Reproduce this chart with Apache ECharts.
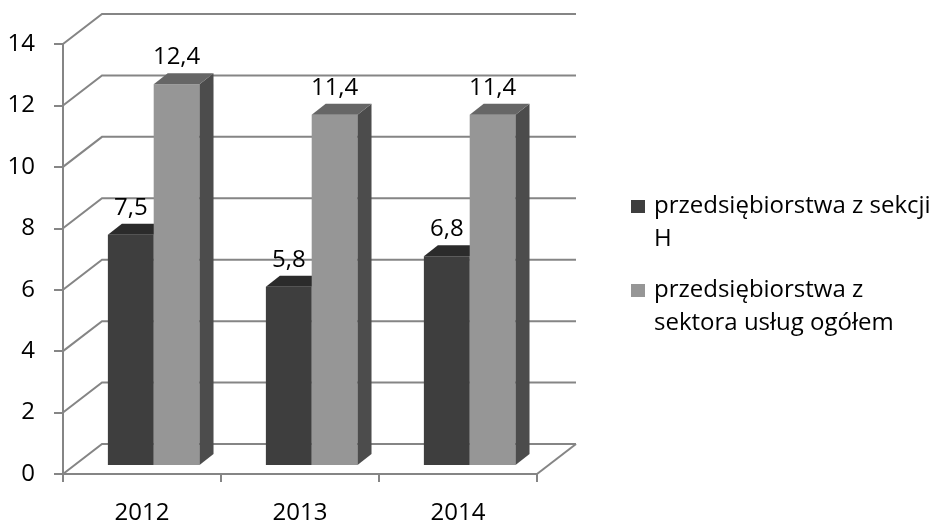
<!DOCTYPE html>
<html>
<head>
<meta charset="utf-8">
<script src="https://cdn.jsdelivr.net/npm/echarts@6/dist/echarts.min.js"></script>
<style>
  html, body { margin: 0; padding: 0; background: #ffffff; }
  #chart { width: 936px; height: 521px; }
</style>
</head>
<body>
<div id="chart"></div>
<script>
// Data
const categories = ['2012', '2013', '2014'];
const seriesNames = ['przedsiębiorstwa z sekcji H', 'przedsiębiorstwa z sektora usług ogółem'];
const legendLabels = ['przedsiębiorstwa z sekcji\nH', 'przedsiębiorstwa z\nsektora usług ogółem'];
const sectionH = [7.5, 5.8, 6.8];
const servicesTotal = [12.4, 11.4, 11.4];
const yTicks = [0, 2, 4, 6, 8, 10, 12, 14];

// 3D look: depth of the chart box and of each bar (pixels)
const DX = 39, DY = 30;        // front plane -> back wall
const BAR_PLANE = 0.3;         // bars stand this far into the box
const BDX = 14, BDY = 11;      // bar depth
const GRID_COLOR = '#858585';
const FONT = '"Open Sans", sans-serif';

const palettes = [
  { front: '#3e3e3e', top: '#2b2b2b', side: '#303030' },
  { front: '#969696', top: '#666666', side: '#4c4c4c' }
];

const fmt = v => String(v).replace('.', ',');

// Back wall, side wall and floor lines at every tick value
function renderWalls(params, api) {
  const v = api.value(1);
  const cs = params.coordSys;
  const y = api.coord([0, v])[1];
  const L = cs.x, R = cs.x + cs.width;
  const children = [{
    type: 'polyline',
    shape: { points: [[L, y], [L + DX, y - DY], [R + DX, y - DY]] },
    style: { stroke: GRID_COLOR, lineWidth: 2, fill: null }
  }];
  if (v === yTicks[0]) {
    children.push({
      type: 'line',
      shape: { x1: R, y1: y, x2: R + DX, y2: y - DY },
      style: { stroke: GRID_COLOR, lineWidth: 2 }
    });
  }
  return { type: 'group', children };
}

// A prism-shaped column: front face, right side, top face and value label
function barRenderer(slot) {
  const pal = palettes[slot];
  return function (params, api) {
    const ci = api.value(0), v = api.value(1);
    const top = api.coord([ci, v]);
    const base = api.coord([ci, 0]);
    const band = api.size([1, 0])[0];
    const bw = band * 0.29;
    const sx = DX * BAR_PLANE, sy = DY * BAR_PLANE;
    const x0 = top[0] + sx + (slot - 1) * bw;
    const x1 = x0 + bw;
    const yT = top[1] - sy;
    const yB = base[1] - sy;
    return {
      type: 'group',
      children: [
        { type: 'rect', shape: { x: x0, y: yT, width: bw, height: yB - yT },
          style: { fill: pal.front } },
        { type: 'polygon', shape: { points: [[x1, yT], [x1 + BDX, yT - BDY], [x1 + BDX, yB - BDY], [x1, yB]] },
          style: { fill: pal.side } },
        { type: 'polygon', shape: { points: [[x0, yT], [x0 + BDX, yT - BDY], [x1 + BDX, yT - BDY], [x1, yT]] },
          style: { fill: pal.top } },
        { type: 'text',
          style: { text: fmt(v), x: x0 + bw / 2, y: yT - BDY - 15.5, align: 'center', verticalAlign: 'middle',
                   fontFamily: FONT, fontSize: 24, fill: '#000000' } }
      ]
    };
  };
}

const chart = echarts.init(document.getElementById('chart'), null, { renderer: 'canvas' });

chart.setOption({
  animation: false,
  backgroundColor: '#ffffff',
  grid: { left: 63, right: 399, top: 44, bottom: 47, containLabel: false, outerBoundsMode: 'none' },
  legend: {
    orient: 'vertical',
    left: 631,
    top: 157,
    padding: 0,
    itemWidth: 14,
    itemHeight: 13,
    itemGap: -15,
    icon: 'rect',
    data: seriesNames,
    // a leading empty line keeps the marker level with the first line of text
    formatter: name => '\n' + legendLabels[seriesNames.indexOf(name)],
    textStyle: { fontFamily: FONT, fontSize: 24, lineHeight: 33, color: '#000000', padding: [0, 0, 0, 4] }
  },
  xAxis: {
    type: 'category',
    data: categories,
    boundaryGap: true,
    axisLine: { show: true, lineStyle: { color: GRID_COLOR, width: 2 } },
    axisTick: { show: true, length: 8, lineStyle: { color: GRID_COLOR, width: 2 } },
    axisLabel: { margin: 27, fontFamily: FONT, fontSize: 24, color: '#000000' },
    splitLine: { show: false }
  },
  yAxis: {
    type: 'value',
    min: yTicks[0],
    max: yTicks[yTicks.length - 1],
    interval: yTicks[1] - yTicks[0],
    axisLine: { show: true, lineStyle: { color: GRID_COLOR, width: 2 } },
    axisTick: { show: true, length: 9, lineStyle: { color: GRID_COLOR, width: 2 } },
    axisLabel: { margin: 28, fontFamily: FONT, fontSize: 24, color: '#000000' },
    splitLine: { show: false }
  },
  series: [
    {
      type: 'custom',
      name: 'walls',
      silent: true,
      z: 1,
      renderItem: renderWalls,
      data: yTicks.map(v => [0, v]),
      encode: { x: 0, y: 1 }
    },
    {
      type: 'custom',
      name: seriesNames[0],
      z: 2,
      itemStyle: { color: palettes[0].front },
      renderItem: barRenderer(0),
      data: sectionH.map((v, i) => [i, v]),
      encode: { x: 0, y: 1 }
    },
    {
      type: 'custom',
      name: seriesNames[1],
      z: 3,
      itemStyle: { color: palettes[1].front },
      renderItem: barRenderer(1),
      data: servicesTotal.map((v, i) => [i, v]),
      encode: { x: 0, y: 1 }
    }
  ]
});
</script>
</body>
</html>
